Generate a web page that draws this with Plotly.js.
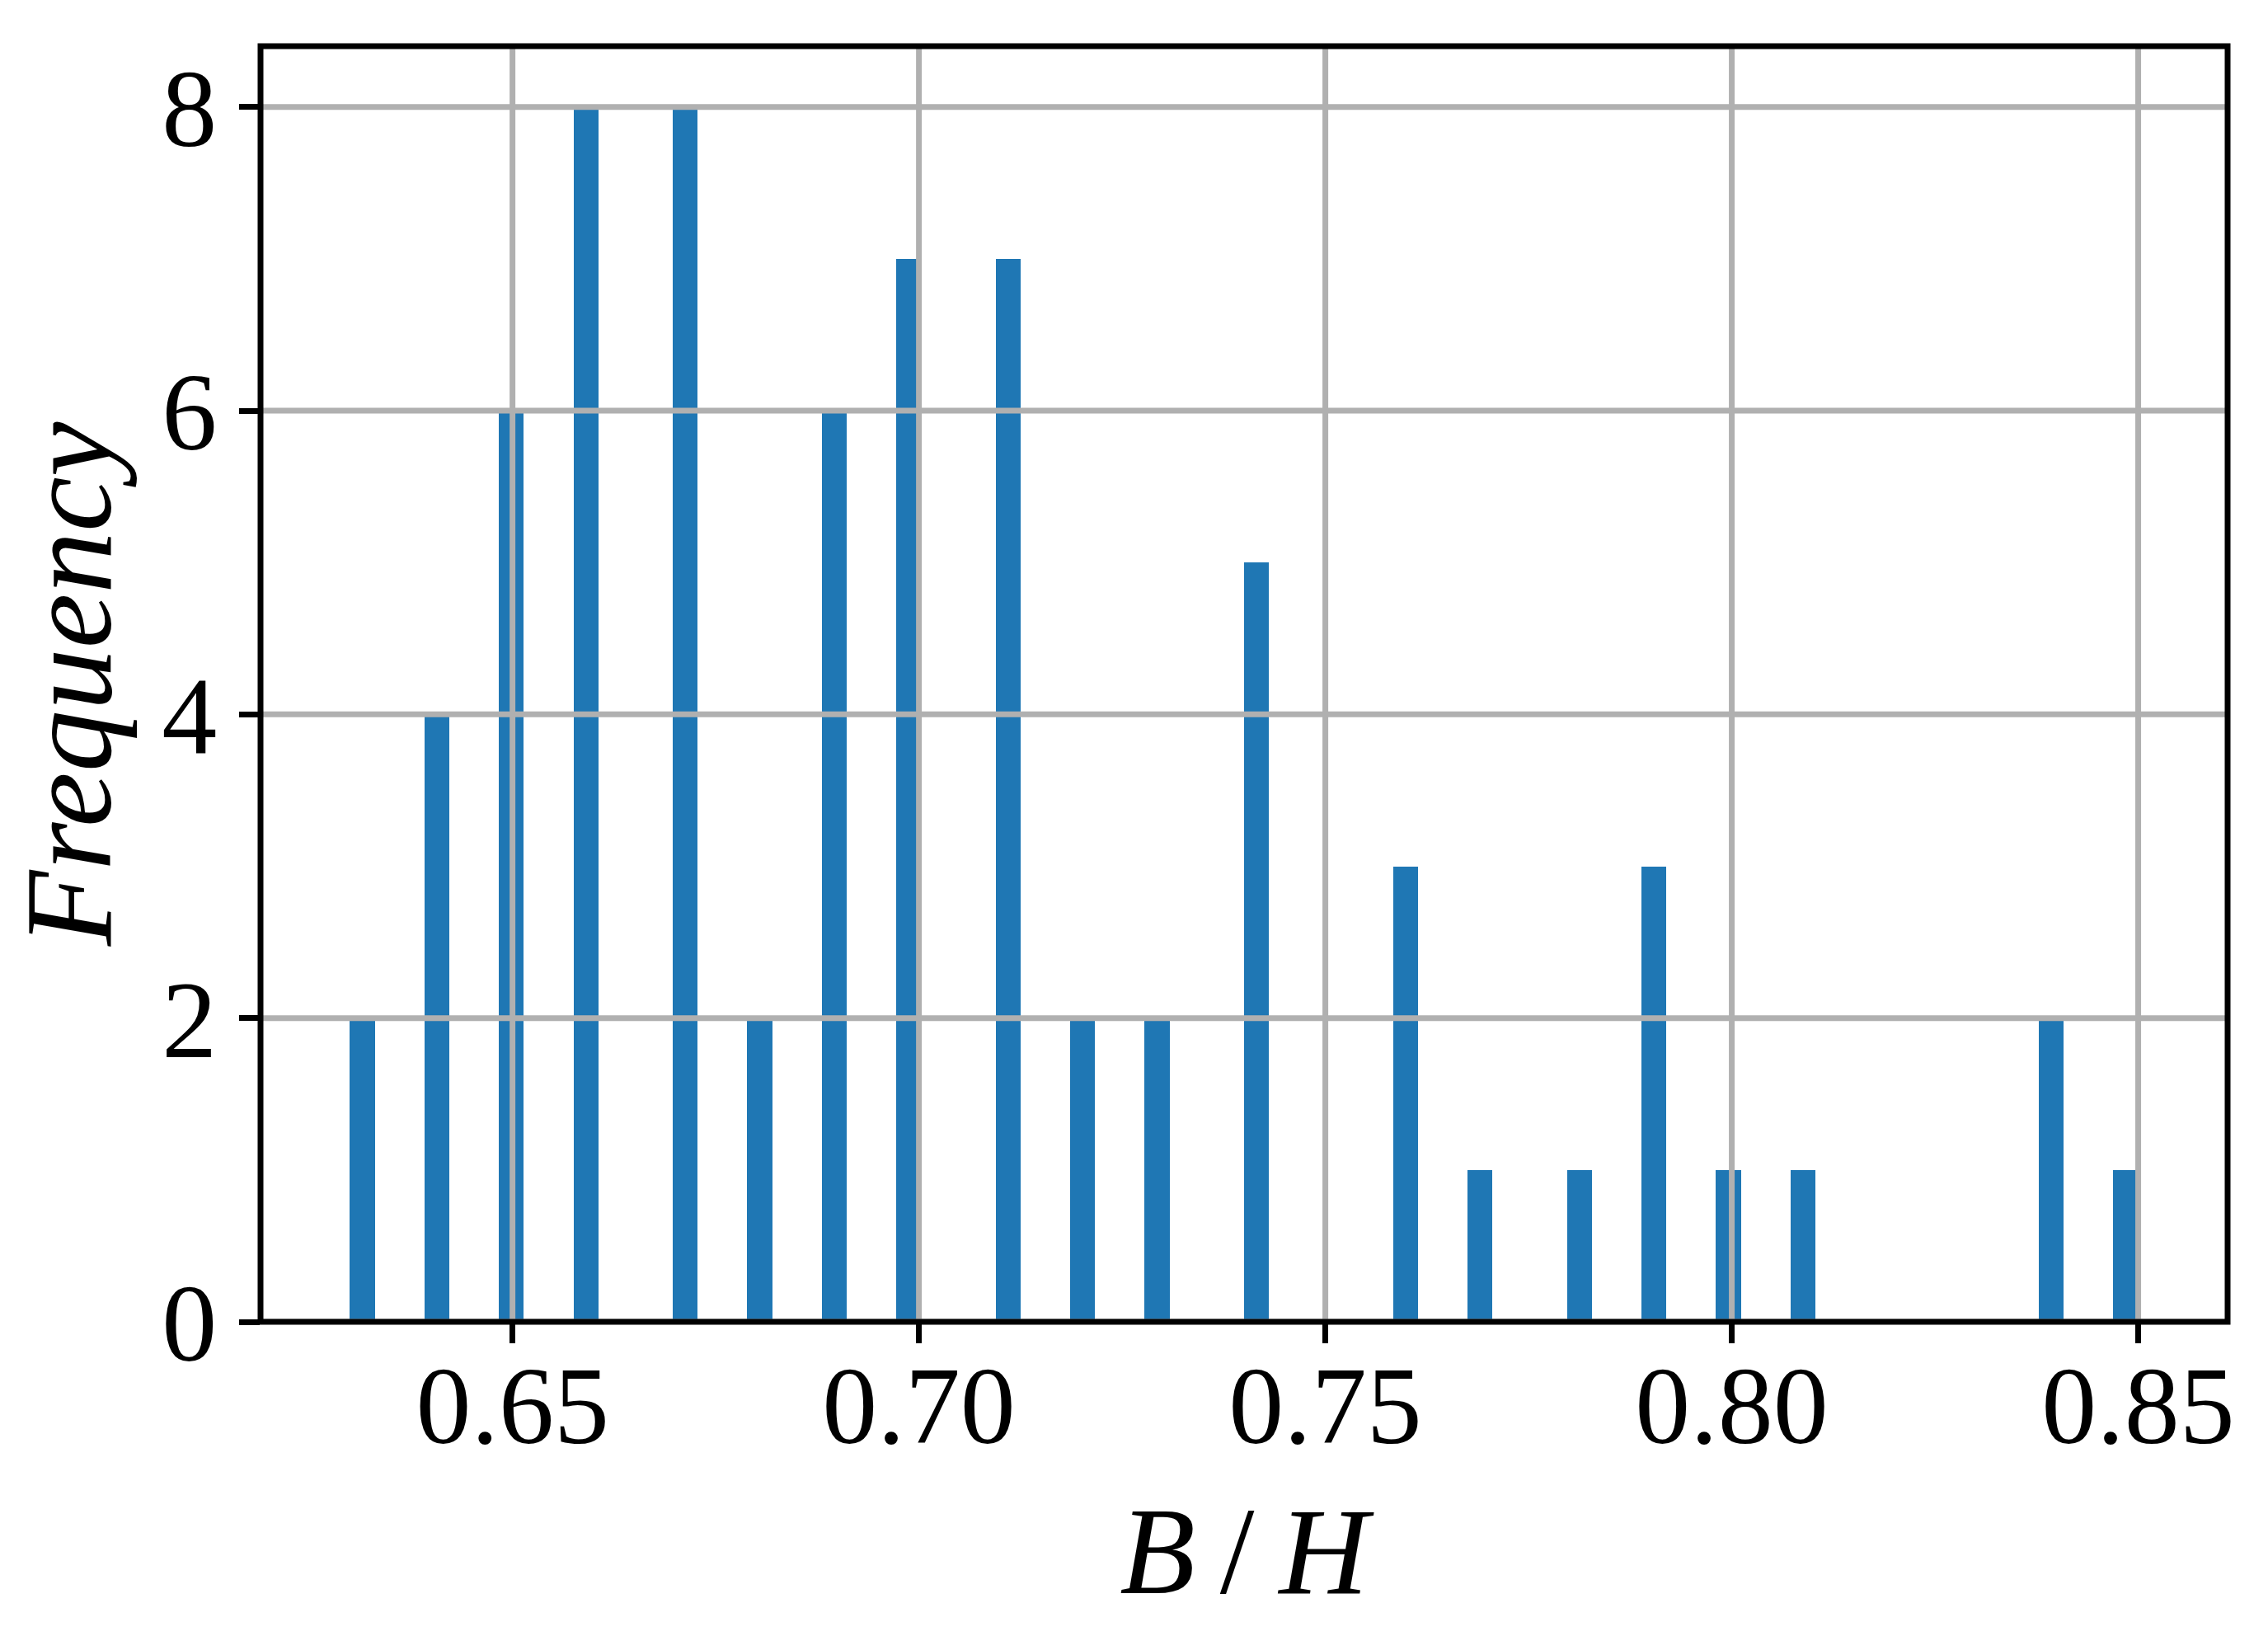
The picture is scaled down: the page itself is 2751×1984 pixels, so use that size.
<!DOCTYPE html>
<html>
<head>
<meta charset="utf-8">
<script src="https://cdn.plot.ly/plotly-3.0.1.min.js"></script>
<style>html,body{margin:0;padding:0;background:#fff;}#chart{width:2751px;height:1984px;}</style>
</head>
<body>
<div id="chart"></div>
<script>
// Observed B/H values (rounded) and how many samples had each value
const bhValues = [0.63, 0.64, 0.65, 0.66, 0.67, 0.68, 0.69, 0.70, 0.71, 0.72, 0.73, 0.74, 0.76, 0.77, 0.78, 0.79, 0.80, 0.81, 0.84, 0.85];
const bhCounts = [2, 4, 6, 8, 8, 2, 6, 7, 7, 2, 2, 5, 3, 1, 1, 3, 1, 1, 2, 1];
const xTickVals = [0.65, 0.70, 0.75, 0.80, 0.85];
const xTickText = ['0.65', '0.70', '0.75', '0.80', '0.85'];
const yTickVals = [0, 2, 4, 6, 8];
const yTickText = ['0', '2', '4', '6', '8'];
const xLabel = '<i>B</i>\u2009/\u2009<i>H</i>';
const yLabel = '<i>Frequency</i>';

// Histogram binning like numpy/matplotlib: number of bins = number of samples
const nBins = bhCounts.reduce((a, b) => a + b, 0);
const lo = Math.min(...bhValues), hi = Math.max(...bhValues);
const binW = (hi - lo) / nBins;
const edges = [];
for (let i = 0; i <= nBins; i++) edges.push(lo + i * binW);
const binCounts = new Array(nBins).fill(0);
bhValues.forEach((v, k) => {
  let idx = Math.floor((v - lo) / binW);
  if (idx >= nBins) idx = nBins - 1;
  if (idx > 0 && v < edges[idx]) idx--;
  if (idx < nBins - 1 && v >= edges[idx + 1]) idx++;
  binCounts[idx] += bhCounts[k];
});
const barX = [], barY = [];
binCounts.forEach((c, i) => { if (c > 0) { barX.push(edges[i]); barY.push(c); } });

const xRange = [lo - 0.05 * (hi - lo), hi + 0.05 * (hi - lo)];
const yMax = Math.max(...binCounts);
const yRange = [0, yMax * 1.05];

const gridColor = '#b0b0b0';
const shapes = [];
xTickVals.forEach(v => shapes.push({type: 'line', xref: 'x', yref: 'paper', x0: v, x1: v, y0: 0, y1: 1, layer: 'above', line: {color: gridColor, width: 7}}));
yTickVals.forEach(v => shapes.push({type: 'line', xref: 'paper', yref: 'y', x0: 0, x1: 1, y0: v, y1: v, layer: 'above', line: {color: gridColor, width: 7}}));
shapes.push({type: 'rect', xref: 'paper', yref: 'paper', x0: 0, x1: 1, y0: 0, y1: 1, layer: 'above', line: {color: '#000', width: 7}, fillcolor: 'rgba(0,0,0,0)'});

const font = 'Liberation Serif, Times New Roman, serif';
const trace = {
  type: 'bar', x: barX, y: barY, width: binW, offset: 0,
  marker: {color: '#1f77b4', line: {width: 0}},
  hoverinfo: 'x+y'
};
const layout = {
  width: 2751, height: 1984,
  margin: {l: 316, r: 49, t: 56, b: 381, pad: 0},
  paper_bgcolor: '#fff', plot_bgcolor: '#fff',
  showlegend: false,
  bargap: 0,
  font: {family: font, color: '#000', size: 132},
  xaxis: {
    range: xRange, tickvals: xTickVals, ticktext: xTickText,
    showgrid: false, zeroline: false, showline: false,
    ticks: 'outside', ticklen: 25, tickwidth: 7, tickcolor: '#000',
    ticklabelstandoff: -40,
    tickfont: {family: font, size: 134, color: '#000'},
    title: {text: xLabel, font: {family: font, size: 150, color: '#000'}, standoff: 49}
  },
  yaxis: {
    range: yRange, tickvals: yTickVals, ticktext: yTickText,
    showgrid: false, zeroline: false, showline: false,
    ticks: 'outside', ticklen: 25, tickwidth: 7, tickcolor: '#000',
    tickfont: {family: font, size: 134, color: '#000'},
    title: {text: yLabel, font: {family: font, size: 150, color: '#000'}, standoff: 16}
  },
  shapes: shapes
};
Plotly.newPlot('chart', [trace], layout, {staticPlot: true, displayModeBar: false});
</script>
</body>
</html>
